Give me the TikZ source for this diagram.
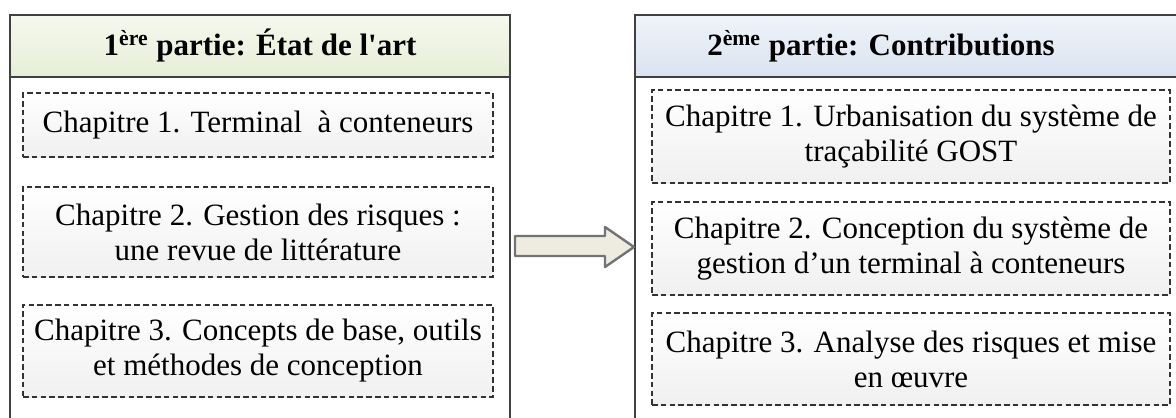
\documentclass[tikz,border=0pt]{standalone}
\usepackage{fontspec}
\setmainfont{Liberation Serif}
\definecolor{headgreen}{HTML}{E6EED6}
\definecolor{headblue}{HTML}{D9E3F0}
\definecolor{arrowfill}{HTML}{EEECE1}
\tikzset{
  partbox/.style = {draw=black!75, line width=1pt},
  chapbox/.style = {draw=black!80, dash pattern=on 2.8pt off 1.6pt, line width=0.6pt,
                    top color=white, bottom color=black!6, align=center, inner sep=0pt},
  blockarrow/.style = {draw=black!55, fill=arrowfill, line width=1.2pt, line join=round}
}
\begin{document}
\begin{tikzpicture}[x=0.5pt,y=-0.5pt]
\fontsize{15.5}{17.5}\selectfont
\clip (0,0) rectangle (1176,417);
\fill[white] (0,0) rectangle (1176,417);
\draw[partbox, top color=headgreen!40, bottom color=headgreen] (10,15) rectangle (510,77);
\draw[partbox] (10,77) rectangle (510,440);
\draw[partbox, top color=headblue!40, bottom color=headblue] (635,15) rectangle (1200,77);
\draw[partbox] (635,77) rectangle (1200,440);
\node (headA) at (260,46) {\bfseries 1\textsuperscript{ère} partie: État de l\textquotesingle art};
\node (headB) at (881,46) {\bfseries 2\textsuperscript{ème} partie: Contributions};
\node[chapbox, minimum width=235pt, minimum height=32pt] (chapA1) at (258,125)
  {Chapitre 1. Terminal \ à conteneurs};
\node[chapbox, minimum width=235pt, minimum height=45pt] (chapA2) at (258,232)
  {Chapitre 2. Gestion des risques :\\ une revue de littérature};
\node[chapbox, minimum width=235pt, minimum height=46pt] (chapA3) at (258,351)
  {Chapitre 3. Concepts de base, outils\\ et méthodes de conception};
\node[chapbox, minimum width=259pt, minimum height=46.5pt] (chapB1) at (911,136.5)
  {Chapitre 1. Urbanisation du système de\\ traçabilité GOST};
\node[chapbox, minimum width=259pt, minimum height=46.5pt] (chapB2) at (911,248.5)
  {Chapitre 2. Conception du système de\\ gestion d’un terminal à conteneurs};
\node[chapbox, minimum width=259pt, minimum height=46pt] (chapB3) at (911,359)
  {Chapitre 3. Analyse des risques et mise\\ en œuvre};
\draw[blockarrow] (515,236) -- (605,236) -- (605,227) -- (634,247) -- (605,267)
  -- (605,256) -- (515,256) -- cycle;
\end{tikzpicture}
\end{document}
